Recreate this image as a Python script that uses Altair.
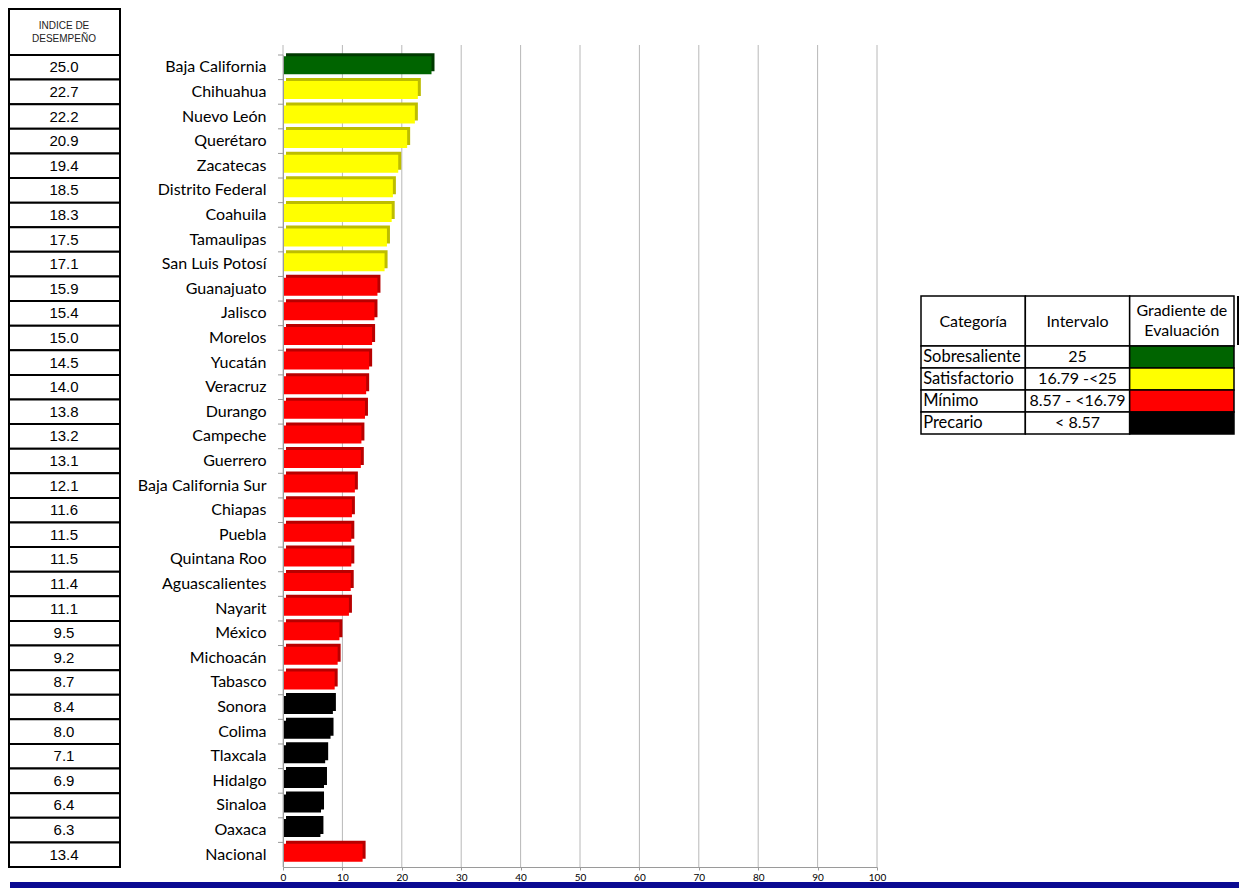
import altair as alt
import pandas as pd

# ---------------- data ----------------
states = ["Baja California", "Chihuahua", "Nuevo León", "Querétaro", "Zacatecas",
          "Distrito Federal", "Coahuila", "Tamaulipas", "San Luis Potosí", "Guanajuato",
          "Jalisco", "Morelos", "Yucatán", "Veracruz", "Durango", "Campeche", "Guerrero",
          "Baja California Sur", "Chiapas", "Puebla", "Quintana Roo", "Aguascalientes",
          "Nayarit", "México", "Michoacán", "Tabasco", "Sonora", "Colima", "Tlaxcala",
          "Hidalgo", "Sinaloa", "Oaxaca", "Nacional"]
values = [25.0, 22.7, 22.2, 20.9, 19.4, 18.5, 18.3, 17.5, 17.1, 15.9, 15.4, 15.0, 14.5,
          14.0, 13.8, 13.2, 13.1, 12.1, 11.6, 11.5, 11.5, 11.4, 11.1, 9.5, 9.2, 8.7, 8.4,
          8.0, 7.1, 6.9, 6.4, 6.3, 13.4]
x_ticks = [0, 10, 20, 30, 40, 50, 60, 70, 80, 90, 100]

cat_names = ["Sobresaliente", "Satisfactorio", "Mínimo", "Precario"]
cat_intervals = ["25", "16.79 -<25", "8.57 - <16.79", "< 8.57"]
cat_colors = ["#006400", "#FFFF00", "#FF0000", "#000000"]
cat_dark = ["#003a00", "#BDBD00", "#B80000", "#000000"]
leg_cols = ["Categoría", "Intervalo", "Gradiente"]
header_title = "INDICE DE\nDESEMPEÑO"


def classify(v):
    if v >= 25:
        return 0
    if v >= 16.79:
        return 1
    if v >= 8.57:
        return 2
    return 3


idx = [classify(v) for v in values]
df = pd.DataFrame({
    "estado": states,
    "valor": values,
    "label": [f"{v:.1f}" for v in values],
    "front": [cat_colors[i] for i in idx],
    "back": [cat_dark[i] for i in idx],
})
grid_df = pd.DataFrame({"valor": x_ticks})

W, H = 594, 812
FONT_LBL = "Lato"
FONT_NUM = "Liberation Sans"

x_axis = alt.Axis(values=x_ticks, title=None, labelFont=FONT_LBL, labelFontSize=10,
                  labelColor="black", labelPadding=2, domainColor="#9a9a9a",
                  tickColor="#9a9a9a", tickSize=3, grid=False, labelFlush=False)
x_enc = alt.X("valor:Q", scale=alt.Scale(domain=[0, 100], nice=False, zero=True), axis=x_axis)
y_axis = alt.Axis(title=None, labelFont=FONT_LBL, labelFontSize=16, labelColor="black",
                  labelPadding=17, domainColor="#9a9a9a", ticks=False, grid=False,
                  labelLimit=300)
y_scale = alt.Scale(domain=states, paddingInner=0, paddingOuter=0)
y_enc = alt.Y("estado:N", scale=y_scale, axis=y_axis)
y_edge = alt.Y("estado:N", scale=y_scale, axis=y_axis, bandPosition=0)

one = pd.DataFrame({"k": [0]})

# left table
tbl_header = alt.Chart(one).mark_rect(fill="white", stroke="black", strokeWidth=2).encode(
    x=alt.value(-274), x2=alt.value(-163), y=alt.value(-46), y2=alt.value(0))
tbl_header_txt = alt.Chart(one).mark_text(
    fontSize=10, font=FONT_NUM, lineBreak="\n", lineHeight=13, align="center",
    baseline="middle", color="#222222").encode(
    x=alt.value(-219), y=alt.value(-29), text=alt.value(header_title))
tbl_cells = alt.Chart(df).mark_rect(fill="white", stroke="black", strokeWidth=2).encode(
    x=alt.value(-274), x2=alt.value(-163), y=y_enc)
tbl_txt = alt.Chart(df).mark_text(fontSize=15, font=FONT_NUM, color="black",
                                  align="center", baseline="middle").encode(
    x=alt.value(-219), y=y_enc, text="label:N")

grid = alt.Chart(grid_df).mark_rule(color="#b8b8b8", strokeWidth=1).encode(
    x=x_enc, y=alt.value(-10), y2=alt.value(H))

y_ticks = alt.Chart(df).mark_rule(color="#9a9a9a", strokeWidth=1).encode(
    x=alt.value(-5), x2=alt.value(0), y=y_edge)

bars_back = alt.Chart(df).mark_bar(size=18, xOffset=3, yOffset=-5).encode(
    x=x_enc, y=y_enc, color=alt.Color("back:N", scale=None))
bars_front = alt.Chart(df).mark_bar(size=18, yOffset=-2).encode(
    x=x_enc, y=y_enc, color=alt.Color("front:N", scale=None))

blue_bottom = alt.Chart(one).mark_rect(color="#0b0b92").encode(
    x=alt.value(-273), x2=alt.value(960), y=alt.value(827), y2=alt.value(833))

main = alt.layer(tbl_header, tbl_cells, tbl_header_txt, tbl_txt, grid, y_ticks,
                 bars_back, bars_front, blue_bottom)

# legend table
leg_rows = []
for n, iv, c in zip(cat_names, cat_intervals, cat_colors):
    leg_rows.append({"row": n, "col": leg_cols[0], "txt": n, "fill": "white"})
    leg_rows.append({"row": n, "col": leg_cols[1], "txt": iv, "fill": "white"})
    leg_rows.append({"row": n, "col": leg_cols[2], "txt": "", "fill": c})
leg_df = pd.DataFrame(leg_rows)
leg_head = pd.DataFrame({"col": leg_cols,
                         "txt": ["Categoría", "Intervalo", "Gradiente de\nEvaluación"],
                         "lines": [1, 1, 2]})

lx = alt.X("col:N", scale=alt.Scale(domain=leg_cols, range=[638, 951],
                                    paddingInner=0, paddingOuter=0), axis=None)
ly = alt.Y("row:N", scale=alt.Scale(domain=cat_names, range=[291, 379],
                                    paddingInner=0, paddingOuter=0), axis=None)

leg_head_rect = alt.Chart(leg_head).mark_rect(fill="white", stroke="black",
                                              strokeWidth=1.5).encode(
    x=lx, y=alt.value(241), y2=alt.value(291))
leg_head_txt1 = alt.Chart(leg_head).transform_filter(alt.datum.lines == 1).mark_text(
    font=FONT_LBL, fontSize=16, color="black",
    align="center", baseline="middle").encode(x=lx, y=alt.value(267), text="txt:N")
leg_head_txt2 = alt.Chart(leg_head).transform_filter(alt.datum.lines == 2).mark_text(
    font=FONT_LBL, fontSize=16, lineBreak="\n", lineHeight=20, color="black",
    align="center", baseline="middle").encode(x=lx, y=alt.value(256), text="txt:N")
leg_cells = alt.Chart(leg_df).mark_rect(stroke="black", strokeWidth=1.5).encode(
    x=lx, y=ly, fill=alt.Fill("fill:N", scale=None))
leg_txt_left = alt.Chart(leg_df).transform_filter(
    alt.datum.col == leg_cols[0]).mark_text(
    font=FONT_LBL, fontSize=16.5, color="black", align="left", baseline="middle",
    xOffset=-50).encode(x=lx, y=ly, text="txt:N")
leg_txt_mid = alt.Chart(leg_df).transform_filter(
    alt.datum.col == leg_cols[1]).mark_text(
    font=FONT_LBL, fontSize=16, color="black", align="center",
    baseline="middle").encode(x=lx, y=ly, text="txt:N")
leg_edge = alt.Chart(one).mark_rule(color="black", strokeWidth=2).encode(
    x=alt.value(955), y=alt.value(241), y2=alt.value(290))

legend = alt.layer(leg_head_rect, leg_cells, leg_head_txt1, leg_head_txt2,
                   leg_txt_left, leg_txt_mid, leg_edge)

chart = alt.layer(main, legend).resolve_scale(x="independent", y="independent").properties(
    width=W, height=H,
    autosize=alt.AutoSizeParams(type="none"),
    padding={"left": 275, "top": 47, "right": 362, "bottom": 21},
    background="white",
).configure_view(stroke=None)

chart.save("out.html", embed_options={"renderer": "svg", "actions": False})
